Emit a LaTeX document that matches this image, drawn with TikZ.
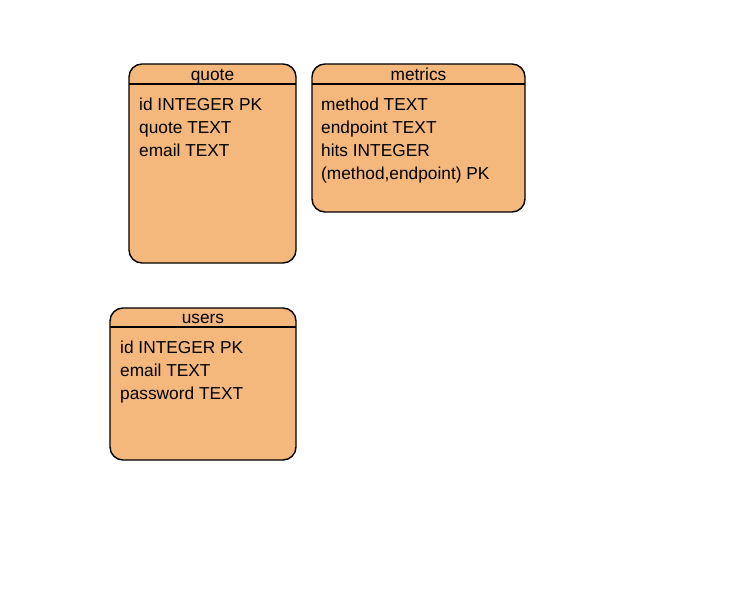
\documentclass[tikz,border=0pt]{standalone}
\usepackage{fontspec}
\setmainfont{Liberation Sans}
\definecolor{tblfill}{HTML}{F4B77C}
\begin{document}
\begin{tikzpicture}[x=1pt,y=-1pt,
  tbl/.style={draw=black,fill=tblfill,line width=1.4pt,rounded corners=13pt},
  sep/.style={draw=black,line width=1.2pt},
  hdr/.style={anchor=base,inner sep=0pt,font=\fontsize{17.3}{20}\selectfont},
  fld/.style={anchor=base west,inner sep=0pt,font=\fontsize{17.3}{20}\selectfont}]
\useasboundingbox (0,0) rectangle (736,604);
% quote
\draw[tbl] (129,64) rectangle (296,263);
\draw[sep] (129,84) -- (296,84);
\node[hdr] (qh) at (212.5,80.5) {quote};
\node[fld] (q1) at (139,110.5) {id INTEGER PK};
\node[fld] (q2) at (139,133.5) {quote TEXT};
\node[fld] (q3) at (139,156.5) {email TEXT};
% metrics
\draw[tbl] (312,64) rectangle (525,212);
\draw[sep] (312,84) -- (525,84);
\node[hdr] (mh) at (418.5,80.5) {metrics};
\node[fld] (m1) at (321,110.5) {method TEXT};
\node[fld] (m2) at (321,133.5) {endpoint TEXT};
\node[fld] (m3) at (321,156.5) {hits INTEGER};
\node[fld] (m4) at (321,179.5) {(method,endpoint) PK};
% users
\draw[tbl] (110,308) rectangle (296,460);
\draw[sep] (110,327) -- (296,327);
\node[hdr] (uh) at (203,323.5) {users};
\node[fld] (u1) at (120,353.5) {id INTEGER PK};
\node[fld] (u2) at (120,376.5) {email TEXT};
\node[fld] (u3) at (120,399.5) {password TEXT};
\end{tikzpicture}
\end{document}
